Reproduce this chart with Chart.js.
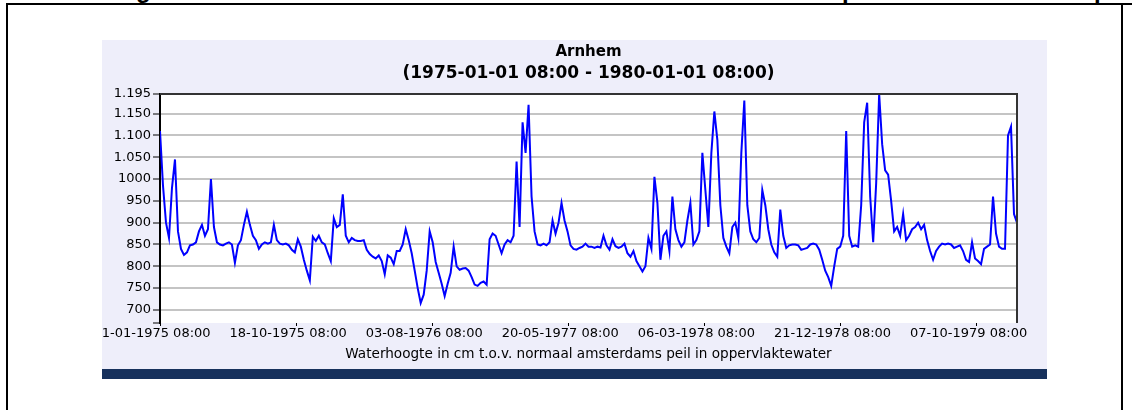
<!DOCTYPE html>
<html>
<head>
<meta charset="utf-8">
<script src="https://cdn.jsdelivr.net/npm/chart.js@4.4.0/dist/chart.umd.min.js"></script>
<style>
    html, body { margin: 0; padding: 0; background: #fff; }
    body { width: 1132px; height: 410px; position: relative; overflow: hidden; font-family: "DejaVu Sans", sans-serif; }
    .rule { position: absolute; background: #000; }
    .cut { position: absolute; top: -22px; font: bold 24px/24px "Liberation Sans", sans-serif; color: #000; }
    #panel { position: absolute; left: 102px; top: 40px; width: 945px; height: 329px; background: #eeeefa; }
    #panel canvas { position: absolute; left: 0; top: 0; }
    #footerBar { position: absolute; left: 102px; top: 369px; width: 945px; height: 10px; background: #17315c; }
</style>
</head>
<body>
<!-- bottom of a heading that is cut off above the picture -->
<span class="cut" style="left:136px;">g</span>
<span class="cut" style="left:842px;">p</span>
<span class="cut" style="left:1094px;">p</span>
<div class="rule" style="left:6px; top:3px; width:1126px; height:2px;"></div>
<div class="rule" style="left:6px; top:3px; width:2px; height:407px;"></div>
<div class="rule" style="left:1121px; top:3px; width:2px; height:407px;"></div>
<div id="panel"><canvas id="levelChart" width="945" height="329"></canvas></div>
<div id="footerBar"></div>
<script>
// Station + period
const stationName = 'Arnhem';
const periodText = '(1975-01-01 08:00 - 1980-01-01 08:00)';
const axisTitle = 'Waterhoogte in cm t.o.v. normaal amsterdams peil in oppervlaktewater';

// Days from 01-01-1975 08:00 to 01-01-1980 08:00
const SPAN_DAYS = 1826;

// x tick positions (days from start) and their labels
const xTickDays = [0, 290, 580, 870, 1160, 1450, 1740];
const xTickLabels = ['01-01-1975 08:00', '18-10-1975 08:00', '03-08-1976 08:00', '20-05-1977 08:00',
                     '06-03-1978 08:00', '21-12-1978 08:00', '07-10-1979 08:00'];

// y ticks (670 = bottom of the axis, no label)
const yTickValues = [670, 700, 750, 800, 850, 900, 950, 1000, 1050, 1100, 1150, 1195];
const yTickLabels = ['', '700', '750', '800', '850', '900', '950', '1000', '1.050', '1.100', '1.150', '1.195'];

const waterLevels = [
    1110, 985, 900, 865, 980, 1045, 880, 840, 826, 832,
    848, 850, 855, 880, 895, 870, 885, 1000, 890, 855,
    850, 848, 852, 855, 850, 808, 848, 860, 895, 925,
    895, 870, 860, 840, 850, 855, 852, 855, 895, 860,
    852, 850, 852, 848, 838, 832, 862, 845, 815, 790,
    768, 868, 858, 870, 855, 850, 830, 812, 910, 890,
    895, 965, 870, 855, 865, 860, 858, 858, 860, 838,
    828, 822, 818,
    825, 812, 782, 825, 820, 805, 835, 835, 850, 885,
    860, 830, 790, 750, 716, 735, 790, 880, 855, 810,
    785, 760, 732, 760, 785, 845, 800, 792, 795, 796,
    790, 775, 758, 755, 762, 765, 758, 862, 875, 870,
    850, 830, 850, 860, 855, 870, 1040, 890, 1130, 1060,
    1170, 960, 880, 850, 848, 852, 848, 855, 905, 875,
    900, 945, 905, 880, 848, 840, 838, 842, 845, 852,
    845,
    845, 842, 845, 843, 870, 848, 838, 862, 846, 842,
    845, 852, 830, 822, 835, 812, 800, 788, 800, 865,
    840, 1005, 945, 815, 870, 880, 835, 960, 885, 860,
    845, 855, 905, 945, 850, 860, 880, 1060, 975, 890,
    1060, 1155, 1090, 940, 865, 845, 830, 890, 900, 865,
    1060, 1180, 940, 880, 862, 855, 865, 975, 940, 885,
    850, 832, 822, 930, 870, 842, 848, 850, 850, 848,
    838,
    840, 842, 850, 852, 850, 838, 815, 790, 775, 755,
    800, 840, 845, 870, 1110, 870, 845, 848, 845, 940,
    1130, 1175, 960, 855, 990, 1195, 1080, 1020, 1010, 950,
    880, 890, 870, 920, 860, 870, 885, 890, 900, 885,
    895, 860, 835, 815, 835, 845, 852, 850, 852, 850,
    842, 845, 848, 835, 815, 810, 855, 818, 812, 805,
    840, 845, 850, 960, 875, 845, 840, 840, 1100, 1120,
    920, 900
];

const levelPoints = waterLevels.map((v, i) => ({ x: i * SPAN_DAYS / (waterLevels.length - 1), y: v }));

const FONT = 'DejaVu Sans';

// white plot background + dark top/right border
const plotFrame = {
    id: 'plotFrame',
    beforeDraw(chart) {
        const { ctx, chartArea: a } = chart;
        ctx.save();
        ctx.fillStyle = '#ffffff';
        ctx.fillRect(a.left, a.top, a.right - a.left, a.bottom - a.top);
        ctx.restore();
    },
    afterDraw(chart) {
        const { ctx, chartArea: a } = chart;
        ctx.save();
        ctx.strokeStyle = '#333333';
        ctx.lineWidth = 2;
        ctx.beginPath();
        ctx.moveTo(a.left, a.top);
        ctx.lineTo(a.right, a.top);
        ctx.lineTo(a.right, a.bottom);
        ctx.stroke();
        ctx.restore();
    }
};

const ctx = document.getElementById('levelChart').getContext('2d');
new Chart(ctx, {
    type: 'line',
    data: {
        datasets: [{
            data: levelPoints,
            borderColor: '#0000ff',
            borderWidth: 2,
            pointRadius: 0,
            tension: 0,
            fill: false
        }]
    },
    options: {
        responsive: false,
        animation: false,
        layout: { padding: { left: 0, right: 30, top: 0, bottom: 0 } },
        plugins: {
            legend: { display: false },
            tooltip: { enabled: false },
            title: {
                display: true,
                fullSize: false,
                text: stationName,
                color: '#000',
                font: { family: FONT, size: 15, weight: 'bold', lineHeight: '21px' },
                padding: { top: 2, bottom: 0 }
            },
            subtitle: {
                display: true,
                fullSize: false,
                text: periodText,
                color: '#000',
                font: { family: FONT, size: 17, weight: 'bold', lineHeight: '21px' },
                padding: { top: 0, bottom: 10 }
            }
        },
        scales: {
            x: {
                type: 'linear',
                min: 0,
                max: SPAN_DAYS,
                border: { display: false },
                grid: { drawOnChartArea: false, drawTicks: true, tickLength: 3, tickColor: '#000' },
                afterBuildTicks: s => { s.ticks = xTickDays.map(v => ({ value: v })); },
                afterFit: s => { s.height = 46; s.paddingLeft = 0; s.paddingRight = 0; },
                ticks: {
                    autoSkip: false,
                    maxRotation: 0,
                    padding: 0,
                    labelOffset: -8,
                    color: '#000',
                    font: { family: FONT, size: 13 },
                    callback: v => xTickLabels[xTickDays.indexOf(v)] ?? ''
                },
                title: {
                    display: true,
                    text: axisTitle,
                    color: '#000',
                    font: { family: FONT, size: 13.6 },
                    padding: { top: 0, bottom: 6 }
                }
            },
            y: {
                min: 670,
                max: 1195,
                border: { display: true, color: '#000', width: 2 },
                grid: {
                    color: c => (c.tick && c.tick.value === 670) ? 'rgba(0,0,0,0)' : '#c4c4c4',
                    lineWidth: 2,
                    tickLength: 7,
                    tickColor: '#000',
                    tickWidth: 1
                },
                afterBuildTicks: s => { s.ticks = yTickValues.map(v => ({ value: v })); },
                afterFit: s => { s.width = 58; s.paddingTop = 0; s.paddingBottom = 0; },
                ticks: {
                    padding: 2,
                    color: '#000',
                    font: { family: FONT, size: 13 },
                    callback: v => yTickLabels[yTickValues.indexOf(v)] ?? ''
                }
            }
        }
    },
    plugins: [plotFrame]
});
</script>
</body>
</html>
